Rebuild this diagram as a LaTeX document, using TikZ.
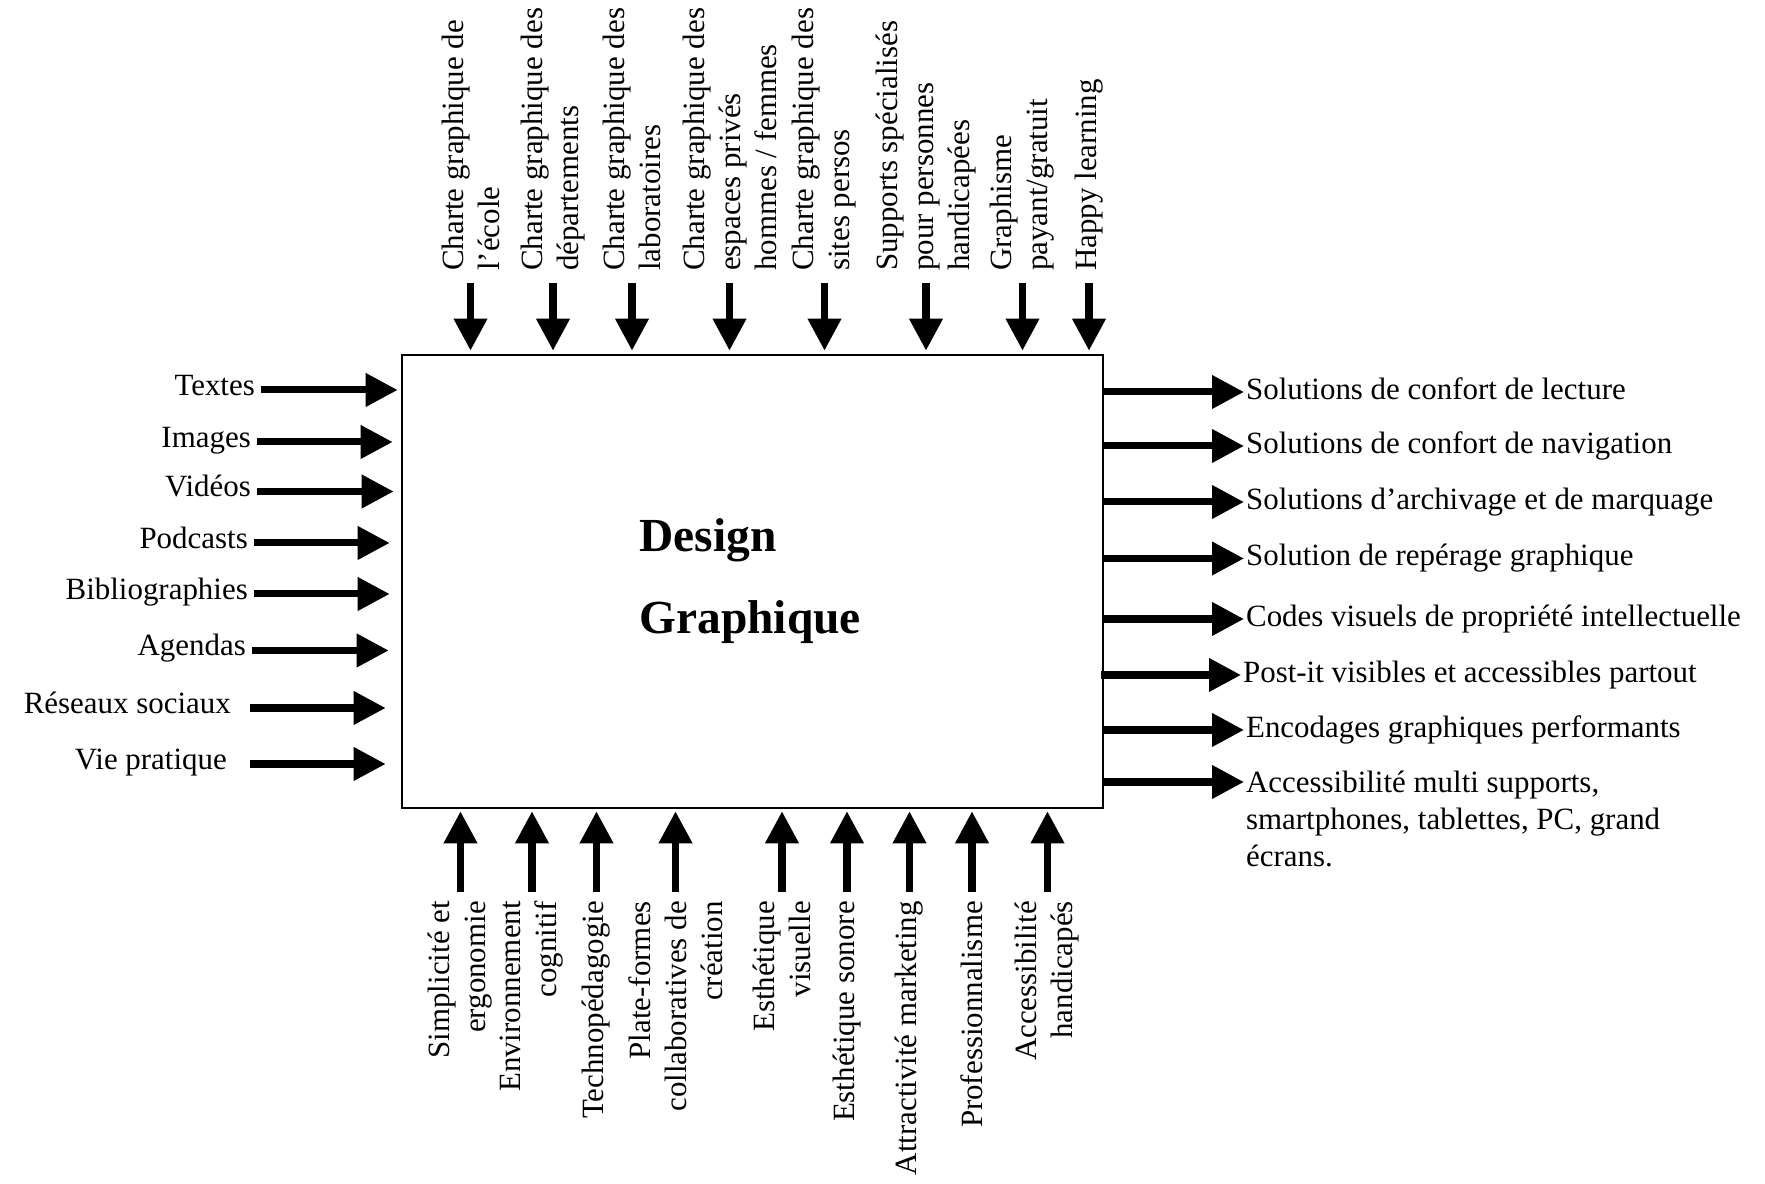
\documentclass[tikz,border=0pt]{standalone}
\usepackage{fontspec}
\setmainfont{Liberation Serif}
\usepackage{tikz}
\usetikzlibrary{arrows.meta}

\tikzset{
  lbl/.style={font=\fontsize{17.6}{20.5}\selectfont},
  inlbl/.style={lbl,anchor=east,text height=0.76em,text depth=0.16em},
  outlbl/.style={lbl,anchor=west,inner xsep=1pt,text height=0.9em,text depth=0.06em},
  toplbl/.style={lbl,rotate=90,anchor=west,align=left},
  botlbl/.style={lbl,rotate=90,anchor=east,align=right},
  arr/.style={line width=4pt,-{Triangle[length=0.64cm,width=0.64cm]}},
}

\begin{document}
\begin{tikzpicture}
\useasboundingbox (0,0) rectangle (35.30,23.68);

\node [draw,line width=1.5pt,minimum width=14.02cm,minimum height=9.06cm,inner sep=0] (box) at (15.05,12.05) {};
\node [font=\fontsize{27}{47}\selectfont\bfseries,align=left,anchor=west,inner sep=0] (title) at (12.78,12.06) {Design\\Graphique};

\node [inlbl] (textes)  at (5.22,15.88) {Textes};
\node [inlbl] (images)  at (5.14,14.84) {Images};
\node [inlbl] (videos)  at (5.14,13.85) {Vidéos};
\node [inlbl] (podcasts) at (5.08,12.82) {Podcasts};
\node [inlbl] (biblio)  at (5.08,11.80) {Bibliographies};
\node [inlbl] (agendas) at (5.04,10.67) {Agendas};
\node [inlbl] (reseaux) at (4.74,9.52) {Réseaux sociaux};
\node [inlbl] (vie)     at (4.66,8.40) {Vie pratique};
\draw [arr,shorten >=0.06cm] (textes) to (textes -| box.west);
\draw [arr,shorten >=0.16cm] (images) to (images -| box.west);
\draw [arr,shorten >=0.14cm] (videos) to (videos -| box.west);
\draw [arr,shorten >=0.22cm] (podcasts) to (podcasts -| box.west);
\draw [arr,shorten >=0.22cm] (biblio) to (biblio -| box.west);
\draw [arr,shorten >=0.24cm] (agendas) to (agendas -| box.west);
\draw [arr,shorten <=0.26cm,shorten >=0.30cm] (reseaux) to (reseaux -| box.west);
\draw [arr,shorten <=0.34cm,shorten >=0.30cm] (vie) to (vie -| box.west);

\node [toplbl] (ecole)     at (9.41,18.14) {Charte graphique de\\l’école};
\node [toplbl] (depts)     at (11.06,18.14) {Charte graphique des\\départements};
\node [toplbl] (labos)     at (12.64,18.14) {Charte graphique des\\laboratoires};
\node [toplbl] (espaces)   at (14.59,18.14) {Charte graphique des\\espaces privés\\hommes / femmes};
\node [toplbl] (sites)     at (16.49,18.14) {Charte graphique des\\sites persos};
\node [toplbl] (supports)  at (18.52,18.14) {Supports spécialisés\\pour personnes\\handicapées};
\node [toplbl] (graphisme) at (20.45,18.14) {Graphisme\\payant/gratuit};
\node [toplbl] (happy)     at (21.78,18.14) {Happy learning};
\draw [arr,shorten <=0.12cm,shorten >=0.06cm] (ecole) to (ecole |- box.north);
\draw [arr,shorten <=0.12cm,shorten >=0.06cm] (depts) to (depts |- box.north);
\draw [arr,shorten <=0.12cm,shorten >=0.06cm] (labos) to (labos |- box.north);
\draw [arr,shorten <=0.12cm,shorten >=0.06cm] (espaces) to (espaces |- box.north);
\draw [arr,shorten <=0.12cm,shorten >=0.06cm] (sites) to (sites |- box.north);
\draw [arr,shorten <=0.12cm,shorten >=0.06cm] (supports) to (supports |- box.north);
\draw [arr,shorten <=0.12cm,shorten >=0.06cm] (graphisme) to (graphisme |- box.north);
\draw [arr,shorten <=0.12cm,shorten >=0.06cm] (happy) to (happy |- box.north);

\node [botlbl] (simpl)       at (9.21,5.78) {Simplicité et\\ergonomie};
\node [botlbl] (envir)       at (10.64,5.78) {Environnement\\cognitif};
\node [botlbl] (techno)      at (11.93,5.78) {Technopédagogie};
\node [botlbl] (plateformes) at (13.51,5.78) {Plate-formes\\collaboratives de\\création};
\node [botlbl] (visuelle)    at (15.64,5.78) {Esthétique\\visuelle};
\node [botlbl] (sonore)      at (16.94,5.78) {Esthétique sonore};
\node [botlbl] (marketing)   at (18.19,5.78) {Attractivité marketing};
\node [botlbl] (pro)         at (19.44,5.78) {Professionnalisme};
\node [botlbl] (handi)       at (20.95,5.78) {Accessibilité\\handicapés};
\draw [arr,shorten <=0.06cm,shorten >=0.04cm] (simpl) to (simpl |- box.south);
\draw [arr,shorten <=0.06cm,shorten >=0.04cm] (envir) to (envir |- box.south);
\draw [arr,shorten <=0.06cm,shorten >=0.04cm] (techno) to (techno |- box.south);
\draw [arr,shorten <=0.06cm,shorten >=0.04cm] (plateformes) to (plateformes |- box.south);
\draw [arr,shorten <=0.06cm,shorten >=0.04cm] (visuelle) to (visuelle |- box.south);
\draw [arr,shorten <=0.06cm,shorten >=0.04cm] (sonore) to (sonore |- box.south);
\draw [arr,shorten <=0.06cm,shorten >=0.04cm] (marketing) to (marketing |- box.south);
\draw [arr,shorten <=0.06cm,shorten >=0.04cm] (pro) to (pro |- box.south);
\draw [arr,shorten <=0.06cm,shorten >=0.04cm] (handi) to (handi |- box.south);

\node [outlbl] (lecture)  at (24.88,15.84) {Solutions de confort de lecture};
\node [outlbl] (navig)    at (24.88,14.76) {Solutions de confort de navigation};
\node [outlbl] (archiv)   at (24.88,13.64) {Solutions d’archivage et de marquage};
\node [outlbl] (reperage) at (24.88,12.51) {Solution de repérage graphique};
\node [outlbl] (codes)    at (24.88,11.30) {Codes visuels de propriété intellectuelle};
\node [outlbl] (postit)   at (24.82,10.18) {Post-it visibles et accessibles partout};
\node [outlbl] (encod)    at (24.88,9.08) {Encodages graphiques performants};
\coordinate (acctip) at (24.88,8.04);
\node [lbl,font=\fontsize{17.6}{21}\selectfont,anchor=north west,align=left,inner xsep=1pt] (acces) at (24.88,8.39) {Accessibilité multi supports,\\smartphones, tablettes, PC, grand\\écrans.};
\draw [arr] (lecture -| box.east) to (lecture);
\draw [arr] (navig -| box.east) to (navig);
\draw [arr] (archiv -| box.east) to (archiv);
\draw [arr] (reperage -| box.east) to (reperage);
\draw [arr] (codes -| box.east) to (codes);
\draw [arr] ([xshift=-0.06cm]postit -| box.east) to (postit);
\draw [arr] (encod -| box.east) to (encod);
\draw [arr] (acctip -| box.east) to (acctip);
\end{tikzpicture}
\end{document}
